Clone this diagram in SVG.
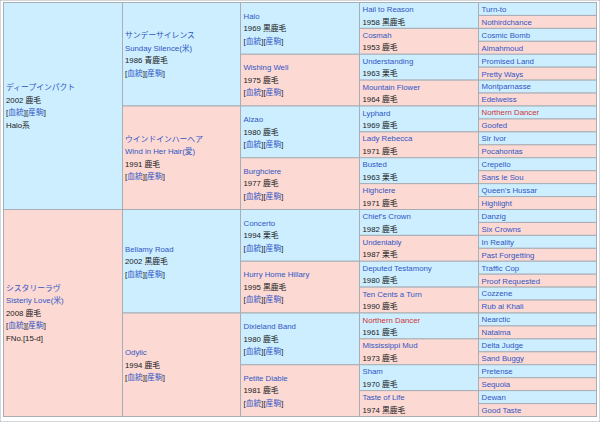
<svg xmlns="http://www.w3.org/2000/svg" width="600" height="422" viewBox="0 0 600 422">
<style>
rect{stroke:#a7aeb6;stroke-width:1}
.b{fill:#cceeff}
.p{fill:#fcd9d3}
text{font-family:"Liberation Sans","Noto Sans CJK JP",sans-serif;font-size:7.8px;fill:#202122}
.l{fill:#3056c4}
.r{fill:#d33333}
</style>
<rect x="0" y="0" width="600" height="422" fill="#ffffff" stroke="none"/>
<g id="col1">
<g id="deep-impact"><rect class="b" x="3.5" y="2.5" width="119" height="207"/>
<text x="6" y="90.05"><tspan class="l">ディープインパクト</tspan><tspan x="6" y="102.55">2002 鹿毛</tspan><tspan x="6" y="115.05">[<tspan class="l">血統</tspan>][<tspan class="l">産駒</tspan>]</tspan><tspan x="6" y="127.55">Halo系</tspan></text></g>
<g id="sisterly-love"><rect class="p" x="3.5" y="209.5" width="119" height="207"/>
<text x="6" y="290.8"><tspan class="l">シスタリーラヴ</tspan><tspan class="l" x="6" y="303.3">Sisterly Love(米)</tspan><tspan x="6" y="315.8">2008 鹿毛</tspan><tspan x="6" y="328.3">[<tspan class="l">血統</tspan>][<tspan class="l">産駒</tspan>]</tspan><tspan x="6" y="340.8">FNo.[15-d]</tspan></text></g>
</g>
<g id="col2">
<g id="sunday-silence"><rect class="b" x="122.5" y="2.5" width="118" height="103.5"/>
<text x="125" y="38.3"><tspan class="l">サンデーサイレンス</tspan><tspan class="l" x="125" y="50.8">Sunday Silence(米)</tspan><tspan x="125" y="63.3">1986 青鹿毛</tspan><tspan x="125" y="75.8">[<tspan class="l">血統</tspan>][<tspan class="l">産駒</tspan>]</tspan></text></g>
<g id="wind-in-her-hair"><rect class="p" x="122.5" y="106" width="118" height="103.5"/>
<text x="125" y="141.8"><tspan class="l">ウインドインハーヘア</tspan><tspan class="l" x="125" y="154.3">Wind in Her Hair(愛)</tspan><tspan x="125" y="166.8">1991 鹿毛</tspan><tspan x="125" y="179.3">[<tspan class="l">血統</tspan>][<tspan class="l">産駒</tspan>]</tspan></text></g>
<g id="bellamy-road"><rect class="b" x="122.5" y="209.5" width="118" height="103.5"/>
<text x="125" y="251.55"><tspan class="l">Bellamy Road</tspan><tspan x="125" y="264.05">2002 黒鹿毛</tspan><tspan x="125" y="276.55">[<tspan class="l">血統</tspan>][<tspan class="l">産駒</tspan>]</tspan></text></g>
<g id="odylic"><rect class="p" x="122.5" y="313" width="118" height="103.5"/>
<text x="125" y="355.05"><tspan class="l">Odylic</tspan><tspan x="125" y="367.55">1994 鹿毛</tspan><tspan x="125" y="380.05">[<tspan class="l">血統</tspan>][<tspan class="l">産駒</tspan>]</tspan></text></g>
</g>
<g id="col3">
<g id="halo"><rect class="b" x="240.5" y="2.5" width="119" height="51.75"/>
<text x="243.5" y="18.7"><tspan class="l">Halo</tspan><tspan x="243.5" y="31.2">1969 黒鹿毛</tspan><tspan x="243.5" y="43.7">[<tspan class="l">血統</tspan>][<tspan class="l">産駒</tspan>]</tspan></text></g>
<g id="wishing-well"><rect class="p" x="240.5" y="54.25" width="119" height="51.75"/>
<text x="243.5" y="70.4"><tspan class="l">Wishing Well</tspan><tspan x="243.5" y="82.9">1975 鹿毛</tspan><tspan x="243.5" y="95.4">[<tspan class="l">血統</tspan>][<tspan class="l">産駒</tspan>]</tspan></text></g>
<g id="alzao"><rect class="b" x="240.5" y="106" width="119" height="51.75"/>
<text x="243.5" y="122.2"><tspan class="l">Alzao</tspan><tspan x="243.5" y="134.7">1980 鹿毛</tspan><tspan x="243.5" y="147.2">[<tspan class="l">血統</tspan>][<tspan class="l">産駒</tspan>]</tspan></text></g>
<g id="burghclere"><rect class="p" x="240.5" y="157.75" width="119" height="51.75"/>
<text x="243.5" y="173.9"><tspan class="l">Burghclere</tspan><tspan x="243.5" y="186.4">1977 鹿毛</tspan><tspan x="243.5" y="198.9">[<tspan class="l">血統</tspan>][<tspan class="l">産駒</tspan>]</tspan></text></g>
<g id="concerto"><rect class="b" x="240.5" y="209.5" width="119" height="51.75"/>
<text x="243.5" y="225.7"><tspan class="l">Concerto</tspan><tspan x="243.5" y="238.2">1994 栗毛</tspan><tspan x="243.5" y="250.7">[<tspan class="l">血統</tspan>][<tspan class="l">産駒</tspan>]</tspan></text></g>
<g id="hurry-home-hillary"><rect class="p" x="240.5" y="261.25" width="119" height="51.75"/>
<text x="243.5" y="277.4"><tspan class="l">Hurry Home Hillary</tspan><tspan x="243.5" y="289.9">1995 黒鹿毛</tspan><tspan x="243.5" y="302.4">[<tspan class="l">血統</tspan>][<tspan class="l">産駒</tspan>]</tspan></text></g>
<g id="dixieland-band"><rect class="b" x="240.5" y="313" width="119" height="51.75"/>
<text x="243.5" y="329.2"><tspan class="l">Dixieland Band</tspan><tspan x="243.5" y="341.7">1980 鹿毛</tspan><tspan x="243.5" y="354.2">[<tspan class="l">血統</tspan>][<tspan class="l">産駒</tspan>]</tspan></text></g>
<g id="petite-diable"><rect class="p" x="240.5" y="364.75" width="119" height="51.75"/>
<text x="243.5" y="380.9"><tspan class="l">Petite Diable</tspan><tspan x="243.5" y="393.4">1981 鹿毛</tspan><tspan x="243.5" y="405.9">[<tspan class="l">血統</tspan>][<tspan class="l">産駒</tspan>]</tspan></text></g>
</g>
<g id="col4">
<g id="hail-to-reason"><rect class="b" x="359.5" y="2.5" width="119" height="25.875"/><text x="362.5" y="12"><tspan class="l">Hail to Reason</tspan><tspan x="362.5" y="24.5">1958 黒鹿毛</tspan></text></g>
<g id="cosmah"><rect class="p" x="359.5" y="28.375" width="119" height="25.875"/><text x="362.5" y="37.9"><tspan class="l">Cosmah</tspan><tspan x="362.5" y="50.4">1953 鹿毛</tspan></text></g>
<g id="understanding"><rect class="b" x="359.5" y="54.25" width="119" height="25.875"/><text x="362.5" y="63.7"><tspan class="l">Understanding</tspan><tspan x="362.5" y="76.2">1963 栗毛</tspan></text></g>
<g id="mountain-flower"><rect class="p" x="359.5" y="80.125" width="119" height="25.875"/><text x="362.5" y="89.6"><tspan class="l">Mountain Flower</tspan><tspan x="362.5" y="102.1">1964 鹿毛</tspan></text></g>
<g id="lyphard"><rect class="b" x="359.5" y="106" width="119" height="25.875"/><text x="362.5" y="115.5"><tspan class="l">Lyphard</tspan><tspan x="362.5" y="128">1969 鹿毛</tspan></text></g>
<g id="lady-rebecca"><rect class="p" x="359.5" y="131.875" width="119" height="25.875"/><text x="362.5" y="141.4"><tspan class="l">Lady Rebecca</tspan><tspan x="362.5" y="153.9">1971 鹿毛</tspan></text></g>
<g id="busted"><rect class="b" x="359.5" y="157.75" width="119" height="25.875"/><text x="362.5" y="167.2"><tspan class="l">Busted</tspan><tspan x="362.5" y="179.7">1963 栗毛</tspan></text></g>
<g id="highclere"><rect class="p" x="359.5" y="183.625" width="119" height="25.875"/><text x="362.5" y="193.1"><tspan class="l">Highclere</tspan><tspan x="362.5" y="205.6">1971 鹿毛</tspan></text></g>
<g id="chiefs-crown"><rect class="b" x="359.5" y="209.5" width="119" height="25.875"/><text x="362.5" y="219"><tspan class="l">Chief's Crown</tspan><tspan x="362.5" y="231.5">1982 鹿毛</tspan></text></g>
<g id="undeniably"><rect class="p" x="359.5" y="235.375" width="119" height="25.875"/><text x="362.5" y="244.9"><tspan class="l">Undeniably</tspan><tspan x="362.5" y="257.4">1987 栗毛</tspan></text></g>
<g id="deputed-testamony"><rect class="b" x="359.5" y="261.25" width="119" height="25.875"/><text x="362.5" y="270.7"><tspan class="l">Deputed Testamony</tspan><tspan x="362.5" y="283.2">1980 鹿毛</tspan></text></g>
<g id="ten-cents-a-turn"><rect class="p" x="359.5" y="287.125" width="119" height="25.875"/><text x="362.5" y="296.6"><tspan class="l">Ten Cents a Turn</tspan><tspan x="362.5" y="309.1">1990 鹿毛</tspan></text></g>
<g id="northern-dancer-4"><rect class="b" x="359.5" y="313" width="119" height="25.875"/><text x="362.5" y="322.5"><tspan class="r">Northern Dancer</tspan><tspan x="362.5" y="335">1961 鹿毛</tspan></text></g>
<g id="mississippi-mud"><rect class="p" x="359.5" y="338.875" width="119" height="25.875"/><text x="362.5" y="348.4"><tspan class="l">Mississippi Mud</tspan><tspan x="362.5" y="360.9">1973 鹿毛</tspan></text></g>
<g id="sham"><rect class="b" x="359.5" y="364.75" width="119" height="25.875"/><text x="362.5" y="374.2"><tspan class="l">Sham</tspan><tspan x="362.5" y="386.7">1970 鹿毛</tspan></text></g>
<g id="taste-of-life"><rect class="p" x="359.5" y="390.625" width="119" height="25.875"/><text x="362.5" y="400.1"><tspan class="l">Taste of Life</tspan><tspan x="362.5" y="412.6">1974 黒鹿毛</tspan></text></g>
</g>
<g id="col5">
<g id="turn-to"><rect class="b" x="478.5" y="2.5" width="118" height="12.94"/><text class="l" x="481.5" y="11.8">Turn-to</text></g>
<g id="nothirdchance"><rect class="p" x="478.5" y="15.44" width="118" height="12.94"/><text class="l" x="481.5" y="24.7">Nothirdchance</text></g>
<g id="cosmic-bomb"><rect class="b" x="478.5" y="28.38" width="118" height="12.94"/><text class="l" x="481.5" y="37.6">Cosmic Bomb</text></g>
<g id="almahmoud"><rect class="p" x="478.5" y="41.31" width="118" height="12.94"/><text class="l" x="481.5" y="50.6">Almahmoud</text></g>
<g id="promised-land"><rect class="b" x="478.5" y="54.25" width="118" height="12.94"/><text class="l" x="481.5" y="63.5">Promised Land</text></g>
<g id="pretty-ways"><rect class="p" x="478.5" y="67.19" width="118" height="12.94"/><text class="l" x="481.5" y="76.5">Pretty Ways</text></g>
<g id="montparnasse"><rect class="b" x="478.5" y="80.13" width="118" height="12.94"/><text class="l" x="481.5" y="89.4">Montparnasse</text></g>
<g id="edelweiss"><rect class="p" x="478.5" y="93.06" width="118" height="12.94"/><text class="l" x="481.5" y="102.3">Edelweiss</text></g>
<g id="northern-dancer-5"><rect class="b" x="478.5" y="106" width="118" height="12.94"/><text class="r" x="481.5" y="115.3">Northern Dancer</text></g>
<g id="goofed"><rect class="p" x="478.5" y="118.94" width="118" height="12.94"/><text class="l" x="481.5" y="128.2">Goofed</text></g>
<g id="sir-ivor"><rect class="b" x="478.5" y="131.88" width="118" height="12.94"/><text class="l" x="481.5" y="141.2">Sir Ivor</text></g>
<g id="pocahontas"><rect class="p" x="478.5" y="144.81" width="118" height="12.94"/><text class="l" x="481.5" y="154.1">Pocahontas</text></g>
<g id="crepello"><rect class="b" x="478.5" y="157.75" width="118" height="12.94"/><text class="l" x="481.5" y="167">Crepello</text></g>
<g id="sans-le-sou"><rect class="p" x="478.5" y="170.69" width="118" height="12.94"/><text class="l" x="481.5" y="180">Sans le Sou</text></g>
<g id="queens-hussar"><rect class="b" x="478.5" y="183.63" width="118" height="12.94"/><text class="l" x="481.5" y="192.9">Queen's Hussar</text></g>
<g id="highlight"><rect class="p" x="478.5" y="196.56" width="118" height="12.94"/><text class="l" x="481.5" y="205.8">Highlight</text></g>
<g id="danzig"><rect class="b" x="478.5" y="209.5" width="118" height="12.94"/><text class="l" x="481.5" y="218.8">Danzig</text></g>
<g id="six-crowns"><rect class="p" x="478.5" y="222.44" width="118" height="12.94"/><text class="l" x="481.5" y="231.7">Six Crowns</text></g>
<g id="in-reality"><rect class="b" x="478.5" y="235.38" width="118" height="12.94"/><text class="l" x="481.5" y="244.6">In Reality</text></g>
<g id="past-forgetting"><rect class="p" x="478.5" y="248.31" width="118" height="12.94"/><text class="l" x="481.5" y="257.6">Past Forgetting</text></g>
<g id="traffic-cop"><rect class="b" x="478.5" y="261.25" width="118" height="12.94"/><text class="l" x="481.5" y="270.5">Traffic Cop</text></g>
<g id="proof-requested"><rect class="p" x="478.5" y="274.19" width="118" height="12.94"/><text class="l" x="481.5" y="283.5">Proof Requested</text></g>
<g id="cozzene"><rect class="b" x="478.5" y="287.13" width="118" height="12.94"/><text class="l" x="481.5" y="296.4">Cozzene</text></g>
<g id="rub-al-khali"><rect class="p" x="478.5" y="300.06" width="118" height="12.94"/><text class="l" x="481.5" y="309.3">Rub al Khali</text></g>
<g id="nearctic"><rect class="b" x="478.5" y="313" width="118" height="12.94"/><text class="l" x="481.5" y="322.3">Nearctic</text></g>
<g id="natalma"><rect class="p" x="478.5" y="325.94" width="118" height="12.94"/><text class="l" x="481.5" y="335.2">Natalma</text></g>
<g id="delta-judge"><rect class="b" x="478.5" y="338.88" width="118" height="12.94"/><text class="l" x="481.5" y="348.2">Delta Judge</text></g>
<g id="sand-buggy"><rect class="p" x="478.5" y="351.81" width="118" height="12.94"/><text class="l" x="481.5" y="361.1">Sand Buggy</text></g>
<g id="pretense"><rect class="b" x="478.5" y="364.75" width="118" height="12.94"/><text class="l" x="481.5" y="374">Pretense</text></g>
<g id="sequoia"><rect class="p" x="478.5" y="377.69" width="118" height="12.94"/><text class="l" x="481.5" y="387">Sequoia</text></g>
<g id="dewan"><rect class="b" x="478.5" y="390.63" width="118" height="12.94"/><text class="l" x="481.5" y="399.9">Dewan</text></g>
<g id="good-taste"><rect class="p" x="478.5" y="403.56" width="118" height="12.94"/><text class="l" x="481.5" y="412.8">Good Taste</text></g>
</g>
</svg>
